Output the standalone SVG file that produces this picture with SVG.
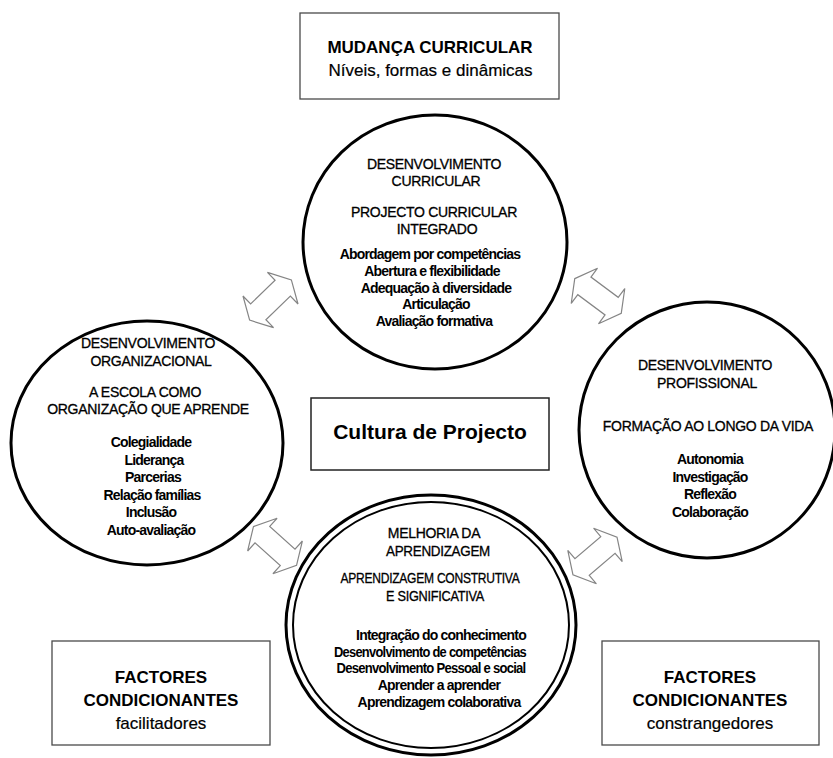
<svg xmlns="http://www.w3.org/2000/svg" width="833" height="758" viewBox="0 0 833 758">
<defs>
<style>
.bg{fill:#ffffff}
.box{fill:#ffffff;stroke:#4a4a4a;stroke-width:1.3}
.circ{fill:none;stroke:#000000;stroke-width:3}
.circ2{fill:none;stroke:#000000;stroke-width:2}
.arr{fill:#ffffff;stroke:#858585;stroke-width:1.2;stroke-linejoin:miter}
text{font-family:"Liberation Sans",Arial,sans-serif;fill:#000000;text-anchor:middle}
.h{font-size:14px;letter-spacing:-0.3px;stroke:#000000;stroke-width:0.3px}
.i{font-size:14px;font-weight:bold;letter-spacing:-0.8px}
.bt{font-size:17px;font-weight:bold}
.br{font-size:17px;stroke:#000000;stroke-width:0.2px}
.ct{font-size:21px;font-weight:bold}
</style>
<path id="dbl" d="M -29,0 L -17,-22 L -17,-11 L 17,-11 L 17,-22 L 29,0 L 17,22 L 17,11 L -17,11 L -17,22 Z"/>
</defs>
<rect class="bg" x="0" y="0" width="833" height="758"/>

<g id="connectors">
<use href="#dbl" class="arr" transform="translate(270.5,300) rotate(-44)"/>
<use href="#dbl" class="arr" transform="translate(598,296) rotate(36.7)"/>
<use href="#dbl" class="arr" transform="translate(275,546) rotate(42)"/>
<use href="#dbl" class="arr" transform="translate(595,556) rotate(-40.6)"/>
</g>

<g id="mudanca">
<rect class="box" x="300" y="13" width="259" height="86"/>
<text class="bt" x="430" y="53">MUDANÇA CURRICULAR</text>
<text class="br" x="430.5" y="76">Níveis, formas e dinâmicas</text>
</g>

<g id="curricular">
<ellipse class="circ" cx="435" cy="242" rx="132" ry="127"/>
<text class="h" x="434" y="169">DESENVOLVIMENTO</text>
<text class="h" x="436" y="186">CURRICULAR</text>
<text class="h" x="434" y="217">PROJECTO CURRICULAR</text>
<text class="h" x="437" y="234">INTEGRADO</text>
<text class="i" x="430" y="259">Abordagem por competências</text>
<text class="i" x="432" y="276">Abertura e flexibilidade</text>
<text class="i" x="436" y="293">Adequação à diversidade</text>
<text class="i" x="436" y="309">Articulação</text>
<text class="i" x="434" y="326">Avaliação formativa</text>
</g>

<g id="organizacional">
<ellipse class="circ" cx="147" cy="443" rx="136" ry="122"/>
<text class="h" x="148" y="348">DESENVOLVIMENTO</text>
<text class="h" x="151" y="366">ORGANIZACIONAL</text>
<text class="h" x="145" y="397">A ESCOLA COMO</text>
<text class="h" x="148" y="414">ORGANIZAÇÃO QUE APRENDE</text>
<text class="i" x="151" y="447">Colegialidade</text>
<text class="i" x="154" y="464.5">Liderança</text>
<text class="i" x="153" y="482">Parcerias</text>
<text class="i" x="152" y="499.5">Relação famílias</text>
<text class="i" x="151" y="517">Inclusão</text>
<text class="i" x="151" y="534.5">Auto-avaliação</text>
</g>

<g id="profissional">
<ellipse class="circ" cx="707" cy="430" rx="128" ry="128"/>
<text class="h" x="705" y="370">DESENVOLVIMENTO</text>
<text class="h" x="707" y="388">PROFISSIONAL</text>
<text class="h" x="708" y="431">FORMAÇÃO AO LONGO DA VIDA</text>
<text class="i" x="710" y="464">Autonomia</text>
<text class="i" x="710" y="481.5">Investigação</text>
<text class="i" x="710" y="499">Reflexão</text>
<text class="i" x="710" y="516.5">Colaboração</text>
</g>

<g id="aprendizagem">
<ellipse class="circ" cx="431" cy="625" rx="145" ry="130"/>
<ellipse class="circ2" cx="431" cy="625" rx="138" ry="123"/>
<text class="h" x="434" y="538">MELHORIA DA</text>
<text class="h" x="438" y="556" textLength="104" lengthAdjust="spacingAndGlyphs">APRENDIZAGEM</text>
<text class="h" x="430" y="583" textLength="179" lengthAdjust="spacingAndGlyphs">APRENDIZAGEM CONSTRUTIVA</text>
<text class="h" x="435" y="601" textLength="98" lengthAdjust="spacingAndGlyphs">E SIGNIFICATIVA</text>
<text class="i" x="441" y="640">Integração do conhecimento</text>
<text class="i" x="430" y="657" textLength="192" lengthAdjust="spacingAndGlyphs">Desenvolvimento de competências</text>
<text class="i" x="431" y="673" textLength="189" lengthAdjust="spacingAndGlyphs">Desenvolvimento Pessoal e social</text>
<text class="i" x="439" y="690">Aprender a aprender</text>
<text class="i" x="439" y="707">Aprendizagem colaborativa</text>
</g>

<g id="cultura">
<rect class="box" x="311" y="398" width="238" height="72" style="stroke:#222222;stroke-width:1.5"/>
<text class="ct" x="430" y="439">Cultura de Projecto</text>
</g>

<g id="facilitadores">
<rect class="box" x="52" y="641" width="218" height="104"/>
<text class="bt" x="161" y="683">FACTORES</text>
<text class="bt" x="161" y="706">CONDICIONANTES</text>
<text class="br" x="161" y="729">facilitadores</text>
</g>

<g id="constrangedores">
<rect class="box" x="602" y="641" width="217" height="104"/>
<text class="bt" x="710" y="683">FACTORES</text>
<text class="bt" x="710" y="706">CONDICIONANTES</text>
<text class="br" x="710" y="729">constrangedores</text>
</g>
</svg>
